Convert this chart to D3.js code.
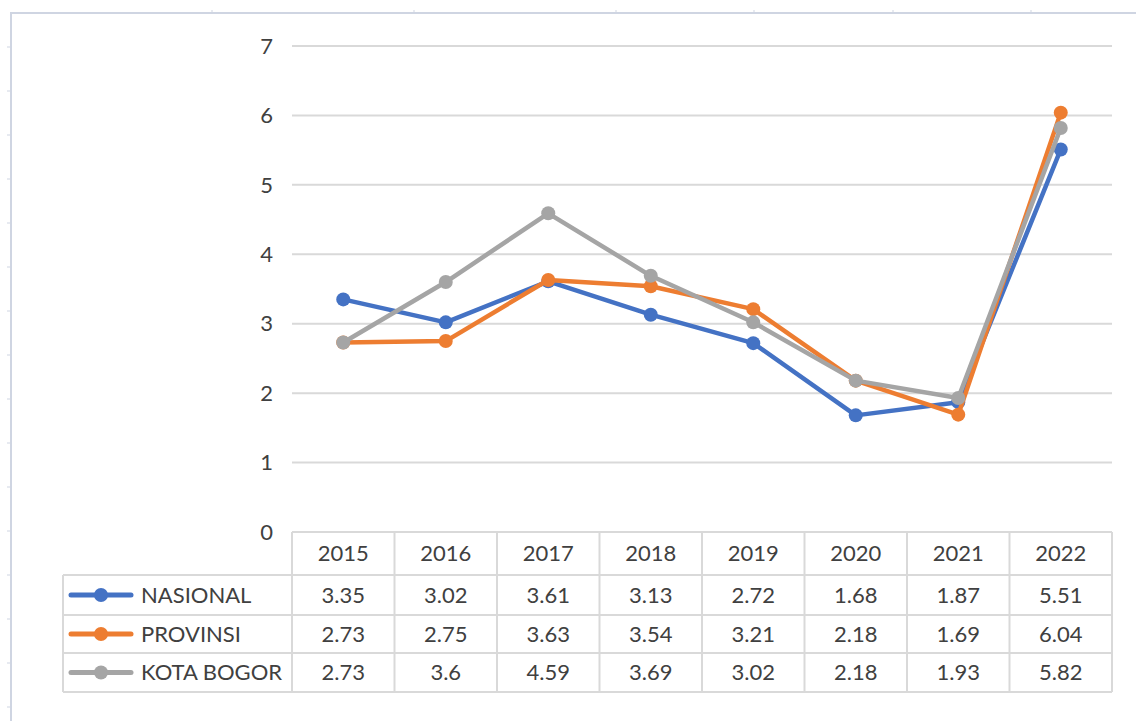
<!DOCTYPE html>
<html>
<head>
<meta charset="utf-8">
<script src="https://cdn.jsdelivr.net/npm/d3@7"></script>
<style>
  body { margin: 0; background: #fff; }
  svg text { font-family: Lato, "Open Sans", sans-serif; fill: #404040; }
</style>
</head>
<body>
<div id="chart"></div>
<script>
// data
var years = ["2015", "2016", "2017", "2018", "2019", "2020", "2021", "2022"];
var seriesNames = ["NASIONAL", "PROVINSI", "KOTA BOGOR"];
var nasional = [3.35, 3.02, 3.61, 3.13, 2.72, 1.68, 1.87, 5.51];
var provinsi = [2.73, 2.75, 3.63, 3.54, 3.21, 2.18, 1.69, 6.04];
var kotaBogor = [2.73, 3.6, 4.59, 3.69, 3.02, 2.18, 1.93, 5.82];
var yTicks = [0, 1, 2, 3, 4, 5, 6, 7];
var colors = ["#4472c4", "#ed7d31", "#a5a5a5"];

var series = [nasional, provinsi, kotaBogor].map(function(vals, i) {
  return { name: seriesNames[i], values: vals, color: colors[i] };
});

var width = 1136, height = 721;
var plotLeft = 292, plotRight = 1112, plotTop = 46, plotBottom = 532;
var rowH = [43, 40, 38, 39]; // header row, then each series row
var legendLeft = 63;

var svg = d3.select("#chart").append("svg")
  .attr("width", width)
  .attr("height", height);

// page frame (sheet edge)
var frame = svg.append("g").attr("stroke", "#cfd5e2");
frame.append("line").attr("x1", 10).attr("x2", width).attr("y1", 13).attr("y2", 13).attr("stroke-width", 2);
frame.append("line").attr("x1", 11).attr("x2", 11).attr("y1", 13).attr("y2", height).attr("stroke-width", 2);
[212, 414, 616, 754, 893, 1031].forEach(function(x) {
  frame.append("line").attr("x1", x).attr("x2", x).attr("y1", 10).attr("y2", 13).attr("stroke-width", 1);
});
d3.range(47, height, 44).forEach(function(y) {
  frame.append("line").attr("x1", 7).attr("x2", 10).attr("y1", y).attr("y2", y).attr("stroke-width", 1);
});

var x = d3.scaleBand().domain(years).range([plotLeft, plotRight]);
var y = d3.scaleLinear().domain([0, 7]).range([plotBottom, plotTop]);

// gridlines
svg.append("g")
  .selectAll("line")
  .data(yTicks.slice(1))
  .enter().append("line")
  .attr("x1", plotLeft).attr("x2", plotRight)
  .attr("y1", function(d) { return y(d); })
  .attr("y2", function(d) { return y(d); })
  .attr("stroke", "#d9d9d9")
  .attr("stroke-width", 2);

// y labels
svg.append("g")
  .selectAll("text")
  .data(yTicks)
  .enter().append("text")
  .attr("x", 273)
  .attr("y", function(d) { return y(d); })
  .attr("dy", "0.35em")
  .attr("text-anchor", "end")
  .style("font-size", "22px")
  .text(function(d) { return d; });

// lines
var line = d3.line()
  .x(function(d, i) { return x(years[i]) + x.bandwidth() / 2; })
  .y(function(d) { return y(d); });

var sg = svg.append("g").selectAll("g")
  .data(series)
  .enter().append("g");

sg.append("path")
  .attr("d", function(d) { return line(d.values); })
  .attr("fill", "none")
  .attr("stroke", function(d) { return d.color; })
  .attr("stroke-width", 4.5)
  .attr("stroke-linejoin", "round");

sg.selectAll("circle")
  .data(function(d) { return d.values.map(function(v) { return { v: v, color: d.color }; }); })
  .enter().append("circle")
  .attr("cx", function(d, i) { return x(years[i]) + x.bandwidth() / 2; })
  .attr("cy", function(d) { return y(d.v); })
  .attr("r", 7)
  .attr("fill", function(d) { return d.color; });

// data table
var table = svg.append("g");
var rowTops = [plotBottom];
rowH.forEach(function(h) { rowTops.push(rowTops[rowTops.length - 1] + h); });
var tableBottom = rowTops[rowTops.length - 1];
var gridStroke = "#d9d9d9";

// horizontal lines
table.append("line").attr("x1", plotLeft).attr("x2", plotRight)
  .attr("y1", rowTops[0]).attr("y2", rowTops[0]);
rowTops.slice(1).forEach(function(t) {
  table.append("line").attr("x1", legendLeft).attr("x2", plotRight).attr("y1", t).attr("y2", t);
});
// vertical lines
table.append("line").attr("x1", legendLeft).attr("x2", legendLeft)
  .attr("y1", rowTops[1]).attr("y2", tableBottom);
years.forEach(function(yr) {
  table.append("line").attr("x1", x(yr)).attr("x2", x(yr))
    .attr("y1", rowTops[0]).attr("y2", tableBottom);
});
table.append("line").attr("x1", plotRight).attr("x2", plotRight)
  .attr("y1", rowTops[0]).attr("y2", tableBottom);
table.selectAll("line").attr("stroke", gridStroke).attr("stroke-width", 2);

// header
table.selectAll("text.hdr")
  .data(years)
  .enter().append("text")
  .attr("class", "hdr")
  .attr("x", function(d) { return x(d) + x.bandwidth() / 2; })
  .attr("y", (rowTops[0] + rowTops[1]) / 2)
  .attr("dy", "0.35em")
  .attr("text-anchor", "middle")
  .style("font-size", "22px")
  .text(function(d) { return d; });

// series rows
series.forEach(function(s, si) {
  var cy = (rowTops[si + 1] + rowTops[si + 2]) / 2;
  var lg = table.append("g");
  lg.append("line").attr("x1", 71).attr("x2", 131).attr("y1", cy).attr("y2", cy)
    .attr("stroke", s.color).attr("stroke-width", 5).attr("stroke-linecap", "round");
  lg.append("circle").attr("cx", 101).attr("cy", cy).attr("r", 7).attr("fill", s.color);
  lg.append("text").attr("x", 141).attr("y", cy).attr("dy", "0.35em")
    .style("font-size", "22px").text(s.name);

  table.selectAll("text.v" + si)
    .data(s.values)
    .enter().append("text")
    .attr("class", "v" + si)
    .attr("x", function(d, i) { return x(years[i]) + x.bandwidth() / 2; })
    .attr("y", cy)
    .attr("dy", "0.35em")
    .attr("text-anchor", "middle")
    .style("font-size", "22px")
    .text(function(d) { return d; });
});
</script>
</body>
</html>
